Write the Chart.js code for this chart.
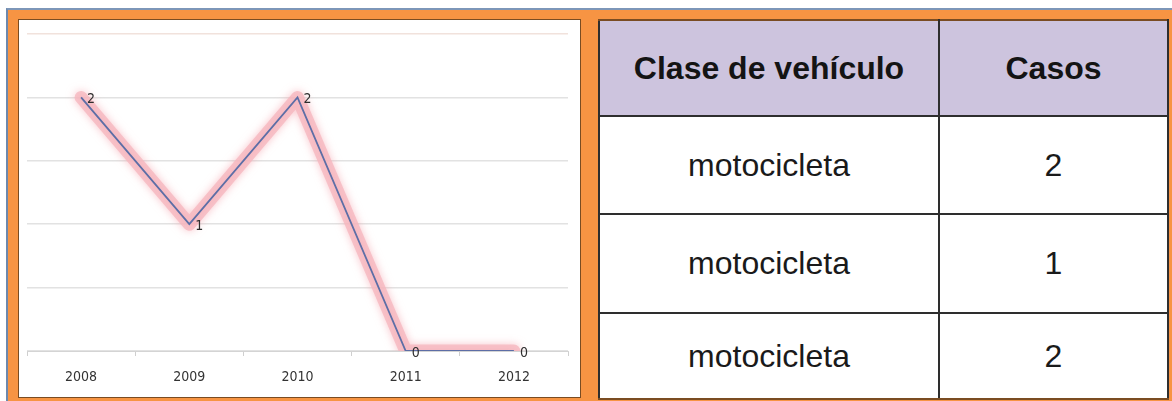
<!DOCTYPE html>
<html>
<head>
<meta charset="utf-8">
<script src="https://cdn.jsdelivr.net/npm/chart.js@4"></script>
<style>
  html,body{margin:0;padding:0;background:#fff;width:1172px;height:401px;overflow:hidden;}
  .frame{position:absolute;left:6px;top:8px;width:1170px;height:400px;background:#f79443;
    border-top:2px solid #7d96b8;border-left:2px solid #6d88ad;box-sizing:border-box;}
  .chartBox{position:absolute;left:18px;top:19px;width:563px;height:379px;background:#fff;
    border:1px solid #7a4c22;box-sizing:border-box;}
  .chartBox canvas{position:absolute;left:0;top:0;}
  table{position:absolute;left:598px;top:19px;width:571px;height:379px;border-collapse:collapse;
    font-family:"Liberation Sans",Arial,sans-serif;background:#fff;table-layout:fixed;}
  td,th{border:2px solid #2e2e2e;text-align:center;vertical-align:middle;padding:0;}
  th{background:#cdc4de;font-weight:bold;font-size:32px;color:#141414;}
  td{font-size:32px;color:#1a1a1a;}
  tr:first-child th{border-top:2px solid #7a4c22;}
  tr:last-child td{border-bottom:2px solid #7a4c22;}
</style>
</head>
<body>
<div class="frame"></div>
<div class="chartBox"><canvas id="c" width="561" height="377"></canvas></div>
<table id="tbl"></table>
<script>
const years = ['2008','2009','2010','2011','2012'];
const casos = [2,1,2,0,0];
const yMin = 0, yMax = 2.5, yStep = 0.5;
const tableHeaders = ['Clase de vehículo','Casos'];
const vehiculos = ['motocicleta','motocicleta','motocicleta'];
const tablaCasos = [2,1,2];
const rowHeights = [96, 98, 99, 86];

// ---- table ----
const tbl = document.getElementById('tbl');
let html = '<tr style="height:' + rowHeights[0] + 'px"><th style="width:338px">' + tableHeaders[0] + '</th><th>' + tableHeaders[1] + '</th></tr>';
vehiculos.forEach((v,i)=>{
  html += '<tr style="height:' + rowHeights[i+1] + 'px"><td>' + v + '</td><td>' + tablaCasos[i] + '</td></tr>';
});
tbl.innerHTML = html;

// ---- data labels next to points ----
const labelFont = '"Liberation Sans Narrow","DejaVu Sans Condensed",sans-serif';
const pointLabels = {
  id:'pointLabels',
  afterDatasetsDraw(chart){
    const meta = chart.getDatasetMeta(1);
    const ctx = chart.ctx;
    ctx.save();
    ctx.font = '14px ' + labelFont;
    ctx.fillStyle = '#2e2e2e';
    ctx.textBaseline = 'middle';
    meta.data.forEach((pt,i)=>{
      ctx.fillText(String(chart.data.datasets[1].data[i]), pt.x + 6, pt.y + 2);
    });
    ctx.restore();
  }
};

// soft glow under the line
const glow = {
  id:'glow',
  beforeDatasetDraw(chart, args){
    if(args.index === 0){ chart.ctx.save(); chart.ctx.shadowColor = 'rgba(245,160,170,0.8)'; chart.ctx.shadowBlur = 8; }
  },
  afterDatasetDraw(chart, args){
    if(args.index === 0) chart.ctx.restore();
  }
};

new Chart(document.getElementById('c'), {
  type:'line',
  data:{
    labels:years,
    datasets:[
      {data:casos, order:2, borderColor:'rgba(246,182,190,0.75)', borderWidth:13, borderCapStyle:'round',
       borderJoinStyle:'round', pointRadius:0, tension:0},
      {data:casos, order:1, borderColor:'#5d6ea6', borderWidth:1.8, pointRadius:0, tension:0}
    ]
  },
  options:{
    responsive:false,
    animation:false,
    events:[],
    layout:{padding:{left:8,right:12,top:14,bottom:0}},
    plugins:{legend:{display:false},tooltip:{enabled:false}},
    scales:{
      x:{
        offset:true,
        afterFit(scale){ scale.height = 46; },
        grid:{offset:true, drawOnChartArea:false, drawTicks:true, tickLength:5, color:'#cfcfcf'},
        border:{color:'#d4d4d4', width:1},
        ticks:{color:'#333', padding:13, font:{family:labelFont, size:14}}
      },
      y:{
        min:yMin, max:yMax,
        ticks:{display:false, stepSize:yStep},
        grid:{drawTicks:false, color:(c)=> c.tick && c.tick.value === yMax ? '#f1e2dc' : '#e2e2e2', lineWidth:1.5},
        border:{display:false}
      }
    }
  },
  plugins:[glow, pointLabels]
});
</script>
</body>
</html>
